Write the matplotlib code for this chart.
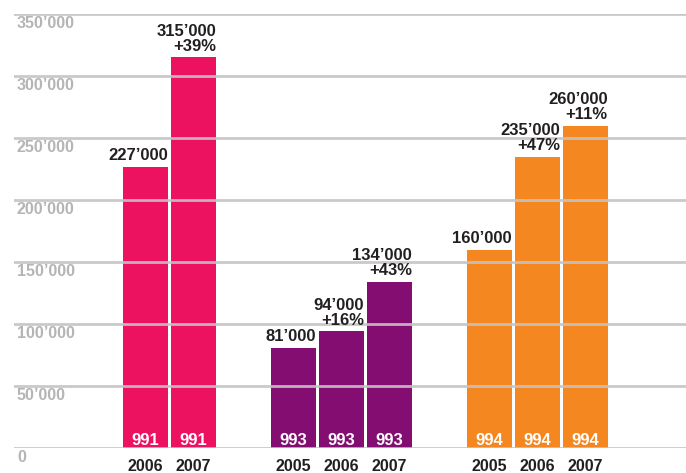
import matplotlib.pyplot as plt

# data
groups = ['991', '993', '994']
years = [['2006', '2007'], ['2005', '2006', '2007'], ['2005', '2006', '2007']]
values = [[227000, 315000], [81000, 94000, 134000], [160000, 235000, 260000]]
changes = [['', '+39%'], ['', '+16%', '+43%'], ['', '+47%', '+11%']]
colors = ['#ec1260', '#830d70', '#f58720']
yticks = [0, 50000, 100000, 150000, 200000, 250000, 300000, 350000]

plt.rcParams['font.family'] = ['Liberation Sans', 'DejaVu Sans']
dark = '#231f20'

fig = plt.figure(figsize=(6.86, 4.73), dpi=100)
ax = fig.add_axes([14 / 686, 25 / 473, 672 / 686, 434 / 473])

group_step = 4.08
width = 0.94
for gi, (grp, yrs, vals, chg) in enumerate(zip(groups, years, values, changes)):
    start = 3 - len(vals)  # first group has no 2005 bar
    for j, (yr, v, c) in enumerate(zip(yrs, vals, chg)):
        x = gi * group_step + start + j
        ax.bar(x, v, width=width, color=colors[gi], zorder=1)
        right = x + width / 2
        lab = f"{v // 1000}\u2019000" + (f"\n{c}" if c else '')
        ax.text(right, v + 3000, lab, ha='right', va='bottom', fontsize=12,
                fontweight='bold', color=dark, linespacing=1.0)
        ax.text(x, 2400, grp, ha='center', va='baseline', fontsize=12,
                fontweight='bold', color='white', zorder=3)
        ax.text(x, -18700, yr, ha='center', va='baseline', fontsize=11.5,
                fontweight='bold', color=dark, clip_on=False)

for t in yticks:
    ax.axhline(t, color='#c4c4c4', lw=2, alpha=0.9, zorder=2)
    lab = '0' if t == 0 else f"{t // 1000}\u2019000"
    ax.text(-1.68, t - 11000, lab, ha='left', va='baseline', fontsize=11.5,
            fontweight='bold', color='#b5b5b5')

ax.set_xlim(-1.74, 12.26)
ax.set_ylim(0, 350000)
ax.axis('off')

fig.savefig('out.png', dpi=100)
